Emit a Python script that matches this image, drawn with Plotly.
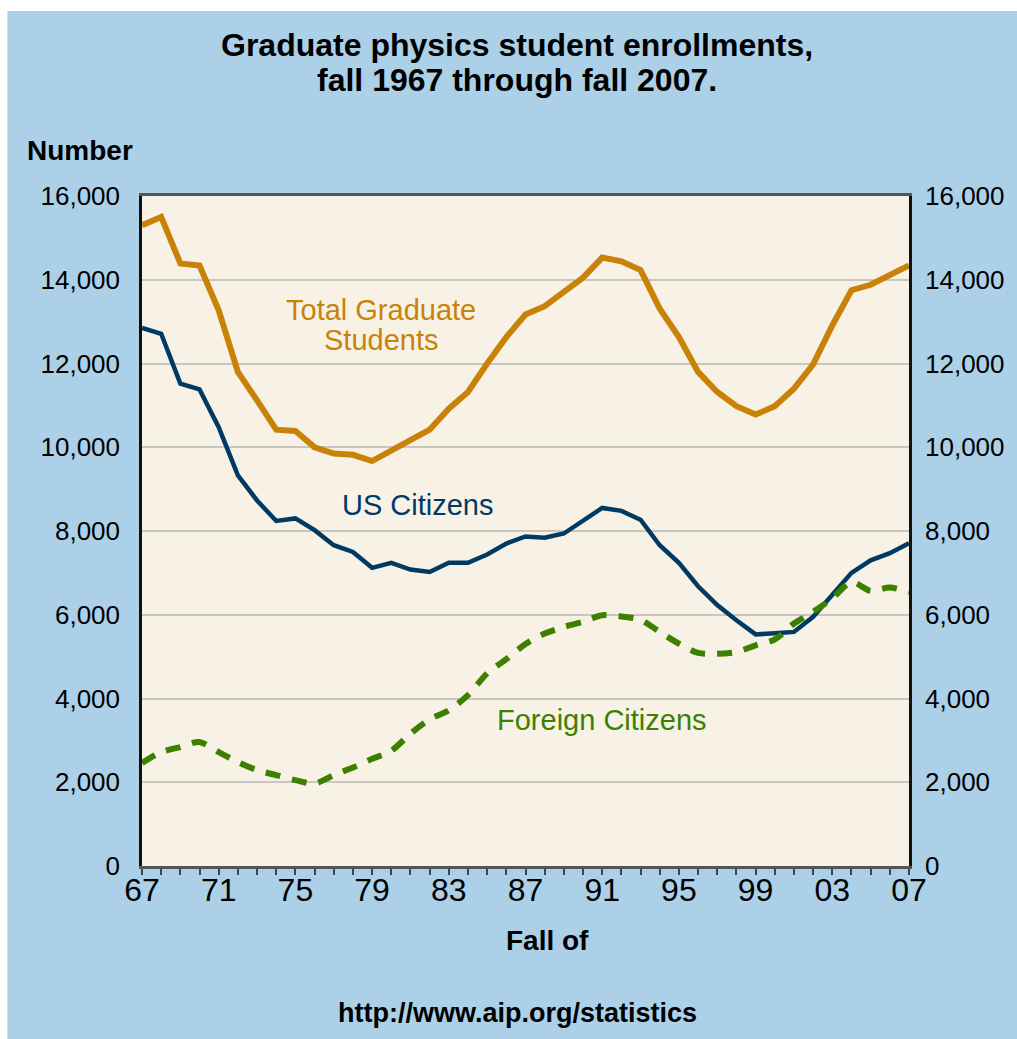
import plotly.graph_objects as go

years = list(range(1967, 2008))

total = [15300, 15500, 14390, 14340, 13270, 11800, 11120, 10420, 10390, 10000,
         9850, 9820, 9670, 9930, 10170, 10420, 10920, 11320, 12000, 12630,
         13170, 13370, 13710, 14050, 14530, 14440, 14230, 13310, 12630, 11800,
         11320, 10980, 10780, 10980, 11400, 11980, 12910, 13750, 13880, 14130, 14340]

us = [12850, 12710, 11520, 11380, 10480, 9330, 8730, 8240, 8300, 8020,
      7660, 7500, 7120, 7240, 7080, 7020, 7240, 7240, 7440, 7700,
      7870, 7840, 7940, 8260, 8550, 8480, 8270, 7660, 7240, 6680,
      6230, 5870, 5530, 5560, 5590, 5950, 6460, 7000, 7300, 7470, 7710]

foreign = [2460, 2720, 2840, 2960, 2720, 2480, 2290, 2170, 2050, 1970,
           2170, 2350, 2560, 2750, 3160, 3500, 3720, 4080, 4600, 4940,
           5300, 5550, 5710, 5830, 5990, 5960, 5880, 5590, 5310, 5090,
           5070, 5110, 5270, 5410, 5790, 6070, 6390, 6780, 6570, 6650, 6540]

label_years = list(range(1967, 2008, 4))
label_text = ["67", "71", "75", "79", "83", "87", "91", "95", "99", "03", "07"]
y_ticks = list(range(0, 16001, 2000))

BLUE_BG = "#ABD0E8"
PLOT_BG = "#F8F2E6"
ORANGE = "#C98208"
NAVY = "#003A63"
GREEN = "#3D8000"
FONT = "Liberation Sans, Arial, sans-serif"

fig = go.Figure()
fig.add_trace(go.Scatter(x=years, y=total, mode="lines",
                         line=dict(color=ORANGE, width=6), name="Total Graduate Students"))
fig.add_trace(go.Scatter(x=years, y=us, mode="lines",
                         line=dict(color=NAVY, width=4.5), name="US Citizens"))
fig.add_trace(go.Scatter(x=years, y=foreign, mode="lines",
                         line=dict(color=GREEN, width=6, dash="15px,12px", shape="spline", smoothing=0.8),
                         name="Foreign Citizens"))
# right-hand duplicate axis
fig.add_trace(go.Scatter(x=years, y=total, mode="lines", yaxis="y2",
                         line=dict(width=0), opacity=0, hoverinfo="skip", showlegend=False))

L, R, T, B = 142, 106, 196, 173
W, H = 1017, 1039
pw, ph = W - L - R, H - T - B


def px(xp):
    return (xp - L) / pw


def py(yp):
    return (H - B - yp) / ph


fig.update_layout(
    width=W, height=H,
    margin=dict(l=L, r=R, t=T, b=B, pad=0),
    paper_bgcolor=BLUE_BG,
    plot_bgcolor=PLOT_BG,
    showlegend=False,
    font=dict(family=FONT, color="black"),
    xaxis=dict(range=[1967, 2007], tickvals=label_years, ticktext=label_text,
               ticks="outside", ticklen=6, tickwidth=1.5, tickcolor="#444",
               minor=dict(dtick=1, tick0=1967, ticks="outside", ticklen=6, tickwidth=1.5, tickcolor="#444"),
               showgrid=False, zeroline=False, ticklabelstandoff=-12,
               showline=True, linecolor="#555555", linewidth=2.5, mirror=True,
               tickfont=dict(size=32, family=FONT, color="black")),
    yaxis=dict(range=[0, 16000], tickvals=y_ticks, tickformat=",",
               showgrid=True, gridcolor="#C9C6BF", gridwidth=1.5, zeroline=False,
               showline=True, linecolor="#111111", linewidth=2.5, mirror=True,
               ticks="", ticklabelstandoff=14,
               tickfont=dict(size=26, family=FONT, color="black")),
    yaxis2=dict(range=[0, 16000], tickvals=y_ticks, tickformat=",", overlaying="y", side="right",
                showgrid=False, zeroline=False, showline=False, ticks="", ticklabelstandoff=15,
                tickfont=dict(size=26, family=FONT, color="black")),
)

# white border strips (top and left) as in the reference
fig.add_shape(type="rect", xref="paper", yref="paper", x0=px(-5), x1=px(W + 5), y0=py(11), y1=py(-5),
              fillcolor="white", line=dict(width=0), layer="above")
fig.add_shape(type="rect", xref="paper", yref="paper", x0=px(-5), x1=px(7), y0=py(H + 5), y1=py(-5),
              fillcolor="white", line=dict(width=0), layer="above")

ann = [
    ("<b>Graduate physics student enrollments,</b>", 518, 45, 32),
    ("<b>fall 1967 through fall 2007.</b>", 518, 80, 32),
    ("<b>Number</b>", 80, 150, 28),
    ("<b>Fall of</b>", 549, 940, 28),
    ("<b>http://www.aip.org/statistics</b>", 518, 1013, 27),
]
for txt, xp, yp, sz in ann:
    fig.add_annotation(xref="paper", yref="paper", xanchor="center", yanchor="middle",
                       showarrow=False, text=txt, x=px(xp), y=py(yp),
                       font=dict(family=FONT, size=sz, color="black"))

series_labels = [
    ("Total Graduate", 1979.45, 13270, ORANGE),
    ("Students", 1979.45, 12550, ORANGE),
    ("US Citizens", 1981.4, 8610, NAVY),
    ("Foreign Citizens", 1991.0, 3480, GREEN),
]
for txt, xv, yv, col in series_labels:
    fig.add_annotation(x=xv, y=yv, xref="x", yref="y", text=txt, showarrow=False,
                       xanchor="center", yanchor="middle",
                       font=dict(family=FONT, size=29, color=col))

fig.write_html("out.html", config={"displayModeBar": False},
               post_script="document.body.style.margin='0px';")
